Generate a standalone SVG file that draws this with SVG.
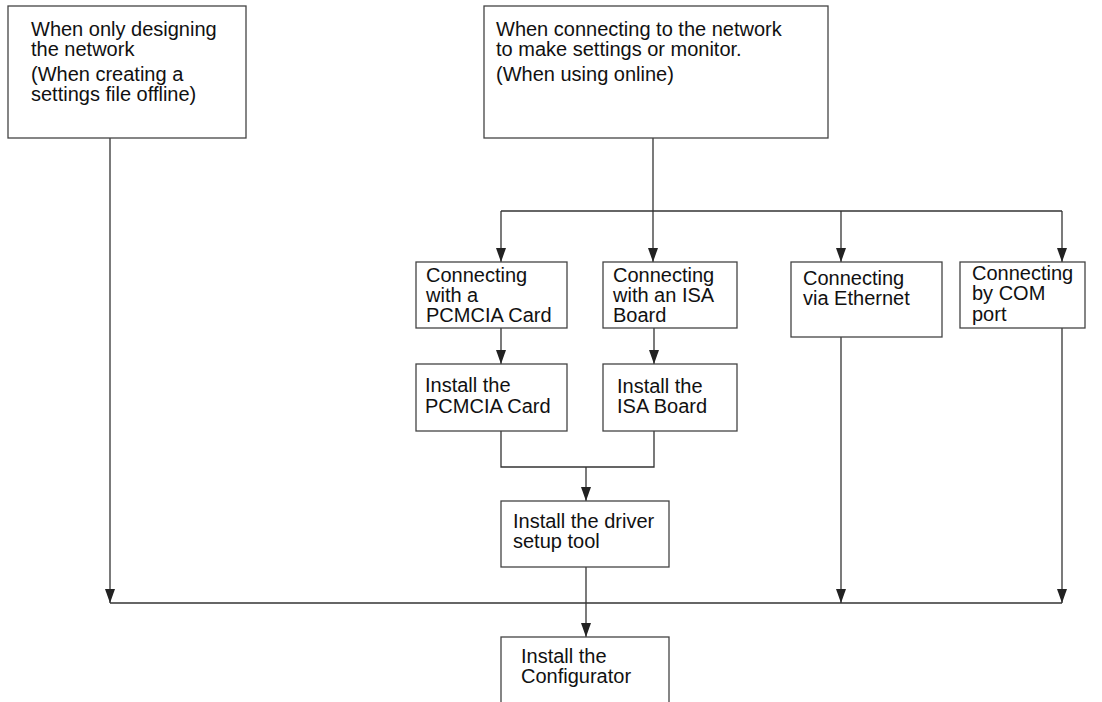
<svg xmlns="http://www.w3.org/2000/svg" width="1102" height="702" viewBox="0 0 1102 702">
<style>
.box{fill:#fff;stroke:#444;stroke-width:1.3}
.t{font-family:"Liberation Sans",Arial,sans-serif;font-size:20px;fill:#111}
.c{fill:none;stroke:#333;stroke-width:1.3}
</style>
<defs>
<marker id="ah" markerUnits="userSpaceOnUse" markerWidth="14" markerHeight="10" refX="14" refY="5" orient="auto" viewBox="0 0 14 10">
<path d="M0,0 L14,5 L0,10 Z" fill="#222"/>
</marker>
</defs>
<rect width="1102" height="702" fill="#fff"/>
<g id="connectors">
<path class="c" d="M110,138 V603" marker-end="url(#ah)"/>
<path class="c" d="M653,138 V262" marker-end="url(#ah)"/>
<path class="c" d="M501,211 H1062"/>
<path class="c" d="M501,211 V262" marker-end="url(#ah)"/>
<path class="c" d="M841,211 V262" marker-end="url(#ah)"/>
<path class="c" d="M1062,211 V262" marker-end="url(#ah)"/>
<path class="c" d="M501,328 V364" marker-end="url(#ah)"/>
<path class="c" d="M654,328 V364" marker-end="url(#ah)"/>
<path class="c" d="M501,431 V467 H654 V431"/>
<path class="c" d="M586,467 V501" marker-end="url(#ah)"/>
<path class="c" d="M586,567 V637" marker-end="url(#ah)"/>
<path class="c" d="M110,603 H1062"/>
<path class="c" d="M841,337 V603" marker-end="url(#ah)"/>
<path class="c" d="M1062,328 V603" marker-end="url(#ah)"/>
</g>
<g id="offline">
<rect class="box" x="8" y="6" width="238" height="132"/>
<text class="t" x="31" y="36">When only designing</text>
<text class="t" x="31" y="56">the network</text>
<text class="t" x="31" y="81">(When creating a</text>
<text class="t" x="31" y="101">settings file offline)</text>
</g>
<g id="online">
<rect class="box" x="484" y="6" width="344" height="132"/>
<text class="t" x="496" y="36">When connecting to the network</text>
<text class="t" x="496" y="56">to make settings or monitor.</text>
<text class="t" x="496" y="81">(When using online)</text>
</g>
<g id="pcmcia">
<rect class="box" x="416" y="262" width="151" height="66"/>
<text class="t" x="426" y="282">Connecting</text>
<text class="t" x="426" y="302">with a</text>
<text class="t" x="426" y="322">PCMCIA Card</text>
</g>
<g id="isa">
<rect class="box" x="603" y="262" width="134" height="66"/>
<text class="t" x="613" y="282">Connecting</text>
<text class="t" x="613" y="302">with an ISA</text>
<text class="t" x="613" y="322">Board</text>
</g>
<g id="ethernet">
<rect class="box" x="791" y="262" width="151" height="75"/>
<text class="t" x="803" y="285">Connecting</text>
<text class="t" x="803" y="305">via Ethernet</text>
</g>
<g id="com">
<rect class="box" x="960" y="262" width="125" height="66"/>
<text class="t" x="972" y="280">Connecting</text>
<text class="t" x="972" y="300">by COM</text>
<text class="t" x="972" y="321">port</text>
</g>
<g id="install-pcmcia">
<rect class="box" x="416" y="364" width="151" height="67"/>
<text class="t" x="425" y="392">Install the</text>
<text class="t" x="425" y="413">PCMCIA Card</text>
</g>
<g id="install-isa">
<rect class="box" x="603" y="364" width="134" height="67"/>
<text class="t" x="617" y="393">Install the</text>
<text class="t" x="617" y="413">ISA Board</text>
</g>
<g id="driver">
<rect class="box" x="501" y="501" width="168" height="66"/>
<text class="t" x="513" y="528">Install the driver</text>
<text class="t" x="513" y="548">setup tool</text>
</g>
<g id="configurator">
<rect class="box" x="501" y="637" width="168" height="80"/>
<text class="t" x="521" y="663">Install the</text>
<text class="t" x="521" y="683">Configurator</text>
</g>
</svg>
